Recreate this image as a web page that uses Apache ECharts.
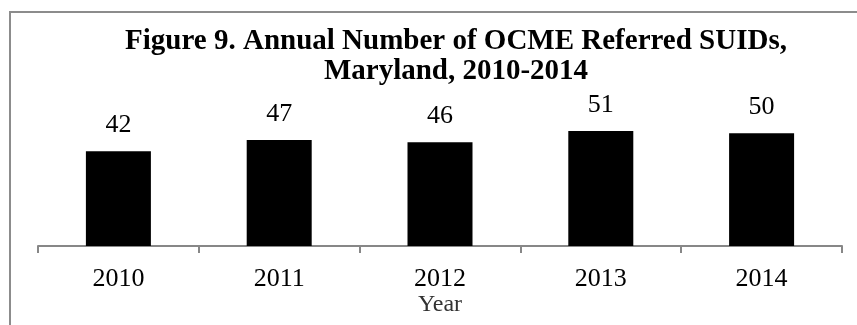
<!DOCTYPE html>
<html>
<head>
<meta charset="utf-8">
<script src="https://cdn.jsdelivr.net/npm/echarts@6/dist/echarts.min.js"></script>
<style>
html,body{margin:0;padding:0;background:#fff;}
#chart{width:857px;height:325px;}
</style>
</head>
<body>
<div id="chart"></div>
<script>
var titleText = "Figure 9. Annual Number of OCME Referred SUIDs,\nMaryland, 2010-2014";
var categories = ["2010", "2011", "2012", "2013", "2014"];
var values = [42, 47, 46, 51, 50];
var axisName = "Year";

var chart = echarts.init(document.getElementById('chart'), null, {renderer: 'canvas'});
var serif = '"Liberation Serif", "Times New Roman", serif';
chart.setOption({
  animation: false,
  backgroundColor: '#ffffff',
  title: {
    text: titleText,
    left: 456,
    top: 27,
    textAlign: 'center',
    padding: 0,
    textStyle: {
      fontFamily: serif,
      fontWeight: 'bold',
      fontSize: 29,
      lineHeight: 30,
      color: '#000'
    }
  },
  graphic: [{
    type: 'rect',
    shape: {x: 10, y: 12, width: 900, height: 400},
    style: {fill: 'none', stroke: '#8c8c8c', lineWidth: 2},
    silent: true
  }],
  grid: {left: 38, right: 15, top: 110.7, bottom: 79},
  xAxis: {
    type: 'category',
    data: categories,
    name: axisName,
    nameLocation: 'middle',
    nameGap: 46,
    nameTextStyle: {fontFamily: serif, fontSize: 24, color: '#333'},
    axisLine: {lineStyle: {color: '#878787', width: 2}},
    axisTick: {show: true, length: 7, lineStyle: {color: '#878787', width: 2}},
    axisLabel: {fontFamily: serif, fontSize: 26, color: '#000', margin: 20}
  },
  yAxis: {
    type: 'value',
    min: 0,
    max: 60,
    show: false,
    splitLine: {show: false}
  },
  series: [{
    type: 'bar',
    data: values,
    barWidth: 65,
    itemStyle: {color: '#000'},
    label: {
      show: true,
      position: 'top',
      distance: 13,
      fontFamily: serif,
      fontSize: 26,
      color: '#000'
    }
  }]
});
</script>
</body>
</html>
